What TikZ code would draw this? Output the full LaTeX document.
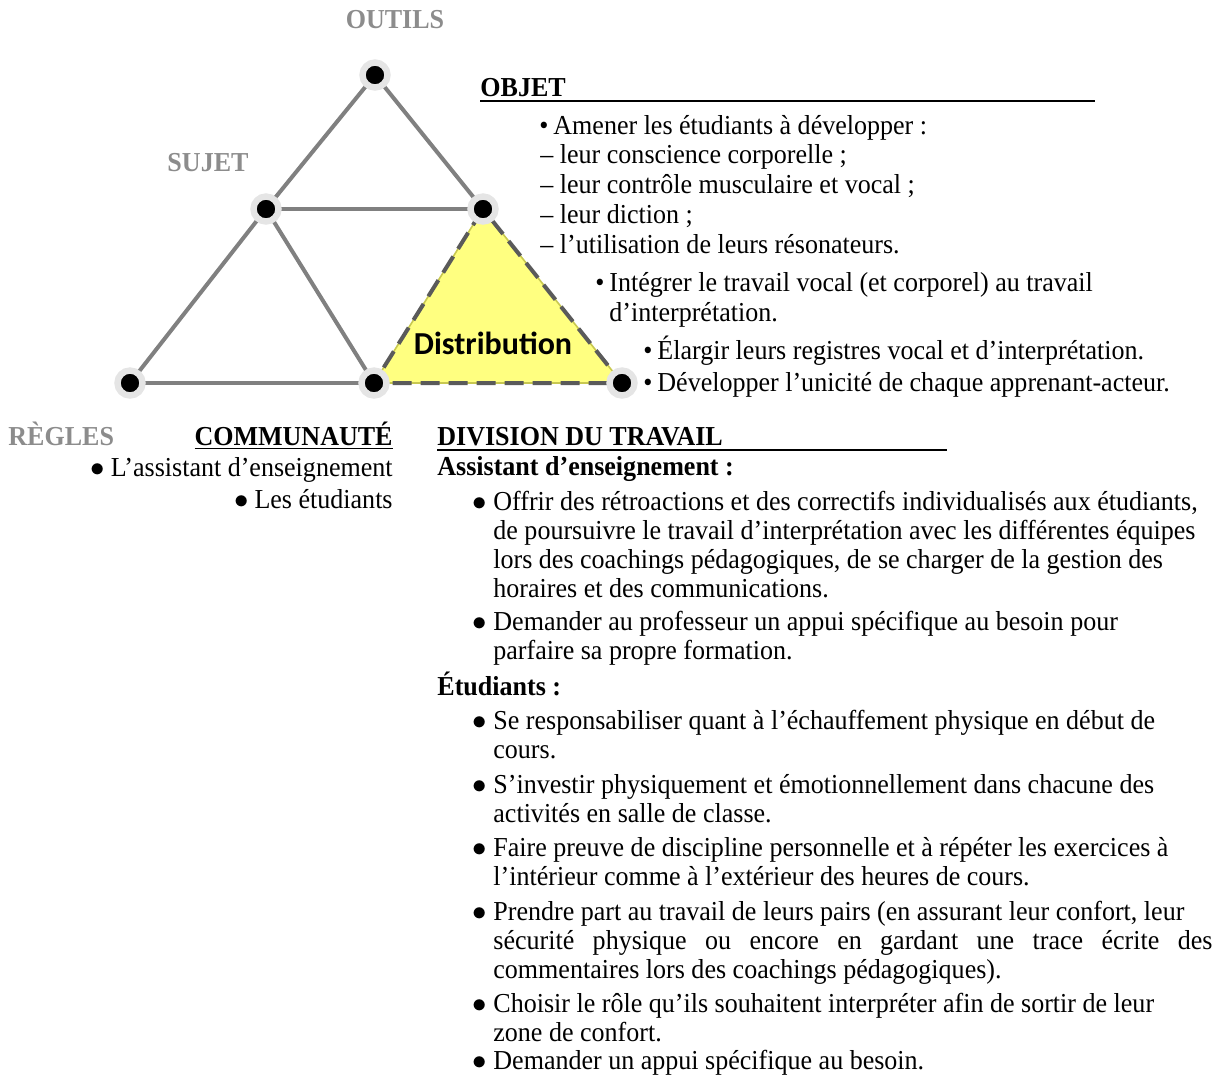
\documentclass[tikz,border=0pt]{standalone}
\usepackage{fontspec}
\setmainfont{Liberation Serif}[FakeStretch=0.95]
\newfontfamily\labelfont{Carlito}
\usetikzlibrary{shadows}
\pgfdeclarelayer{bg}
\pgfsetlayers{bg,main}
\definecolor{headgray}{HTML}{8C8C8C}
\definecolor{linegray}{HTML}{808080}
\definecolor{dashgray}{HTML}{5A5A5A}
\definecolor{distyellow}{HTML}{FFFF80}
\definecolor{distedge}{HTML}{C8C850}
\newcommand{\bodyfont}{\fontsize{13.7}{16}\selectfont}
% hanging bullets: the text itself starts at the node position
\newcommand{\lbul}{\llap{$\bullet$\hspace{3.5pt}}}
\newcommand{\obul}{\llap{•\hspace{2.5pt}}}
\newcommand{\cbul}{$\bullet$\hspace{3pt}}
\begin{document}
\begin{tikzpicture}[x=0.5pt,y=-0.5pt,
  dotnode/.style={circle, inner sep=0pt, minimum size=12.5pt, fill=black,
    draw=white!90!black, line width=3.2pt,
    drop shadow={shadow xshift=0.7pt, shadow yshift=-1pt, opacity=0.35, fill=black}},
  edgeline/.style={draw=linegray, line width=2pt},
  dashedge/.style={draw=dashgray, line width=2pt, dash pattern=on 9.5pt off 4.5pt},
  txt/.style={anchor=base west, inner sep=0pt, font=\bodyfont},
  rtxt/.style={anchor=base east, inner sep=0pt, font=\bodyfont},
  head/.style={anchor=base, inner sep=0pt, font=\bodyfont\bfseries, text=headgray},
  bhead/.style={anchor=base west, inner sep=0pt, font=\bodyfont\bfseries}]
\useasboundingbox (0,0) rectangle (1225,1078);

% activity-system points
\node[dotnode] (outils) at (375,75) {};
\node[dotnode] (sujet) at (266,209) {};
\node[dotnode] (objet) at (483,209) {};
\node[dotnode] (regles) at (130,383) {};
\node[dotnode] (communaute) at (374,383) {};
\node[dotnode] (division) at (622,383) {};

\begin{pgfonlayer}{bg}
  % highlighted sub-triangle
  \fill[distyellow] (objet.center) -- (communaute.center) -- (division.center) -- cycle;
  \draw[distedge, line width=0.8pt] (objet.center) -- (communaute.center) -- (division.center) -- cycle;
  \draw[dashedge] (objet.center) -- (communaute.center) -- (division.center) -- cycle;
  % mediating lines
  \draw[edgeline] (outils.center) -- (sujet.center);
  \draw[edgeline] (outils.center) -- (objet.center);
  \draw[edgeline] (sujet.center) -- (objet.center);
  \draw[edgeline] (sujet.center) -- (regles.center);
  \draw[edgeline] (sujet.center) -- (communaute.center);
  \draw[edgeline] (regles.center) -- (communaute.center);
\end{pgfonlayer}

\node[inner sep=0pt, font=\labelfont\fontsize{16}{19}\selectfont\bfseries] (dist) at (493,343) {Distribution};

% corner labels
\node[head] (louts) at (395,28) {OUTILS};
\node[head] (lsuj) at (208,171) {SUJET};
\node[head, anchor=base west] (lreg) at (8,445) {RÈGLES};

% object
\node[bhead] (lobj) at (480,96) {OBJET};
\draw[line width=1.2pt] (lobj.base west) ++(0,5) coordinate (u1) -- ++(615,0) coordinate (u2);
\node[txt] (o1) at (553,134) {\obul Amener les étudiants à développer :};
\node[txt] (o2) at (540,163) {– leur conscience corporelle ;};
\node[txt] (o3) at (540,193) {– leur contrôle musculaire et vocal ;};
\node[txt] (o4) at (540,223) {– leur diction ;};
\node[txt] (o5) at (540,253) {– l’utilisation de leurs résonateurs.};
\node[txt] (o6) at (609,291) {\obul Intégrer le travail vocal (et corporel) au travail};
\node[txt] (o7) at (609,321) {d’interprétation.};
\node[txt] (o8) at (657,359) {\obul Élargir leurs registres vocal et d’interprétation.};
\node[txt] (o9) at (657,391) {\obul Développer l’unicité de chaque apprenant-acteur.};

% community
\node[rtxt, font=\bodyfont\bfseries] (lcom) at (393,445) {\underline{COMMUNAUTÉ}};
\node[rtxt] (c1) at (393,476) {\cbul L’assistant d’enseignement};
\node[rtxt] (c2) at (393,508) {\cbul Les étudiants};

% division of labour
\node[bhead] (ldiv) at (437,445) {DIVISION DU TRAVAIL};
\draw[line width=1.2pt] (ldiv.base west) ++(0,5) -- ++(510,0);
\node[bhead] (das) at (437,475) {Assistant d’enseignement :};
\node[txt] (d1) at (493,510) {\lbul Offrir des rétroactions et des correctifs individualisés aux étudiants,};
\node[txt] (d2) at (493,539) {de poursuivre le travail d’interprétation avec les différentes équipes};
\node[txt] (d3) at (493,568) {lors des coachings pédagogiques, de se charger de la gestion des};
\node[txt] (d4) at (493,597) {horaires et des communications.};
\node[txt] (d5) at (493,630) {\lbul Demander au professeur un appui spécifique au besoin pour};
\node[txt] (d6) at (493,659) {parfaire sa propre formation.};
\node[bhead] (det) at (437,695) {Étudiants :};
\node[txt] (e1) at (493,729) {\lbul Se responsabiliser quant à l’échauffement physique en début de};
\node[txt] (e2) at (493,758) {cours.};
\node[txt] (e3) at (493,793) {\lbul S’investir physiquement et émotionnellement dans chacune des};
\node[txt] (e4) at (493,822) {activités en salle de classe.};
\node[txt] (e5) at (493,856) {\lbul Faire preuve de discipline personnelle et à répéter les exercices à};
\node[txt] (e6) at (493,885) {l’intérieur comme à l’extérieur des heures de cours.};
\node[txt] (e7) at (493,920) {\lbul Prendre part au travail de leurs pairs (en assurant leur confort, leur};
\node[txt] (e8) at (493,949) {\makebox[359.5pt][s]{sécurité physique ou encore en gardant une trace écrite des}};
\node[txt] (e9) at (493,978) {commentaires lors des coachings pédagogiques).};
\node[txt] (e10) at (493,1012) {\lbul Choisir le rôle qu’ils souhaitent interpréter afin de sortir de leur};
\node[txt] (e11) at (493,1041) {zone de confort.};
\node[txt] (e12) at (493,1069) {\lbul Demander un appui spécifique au besoin.};
\end{tikzpicture}
\end{document}
